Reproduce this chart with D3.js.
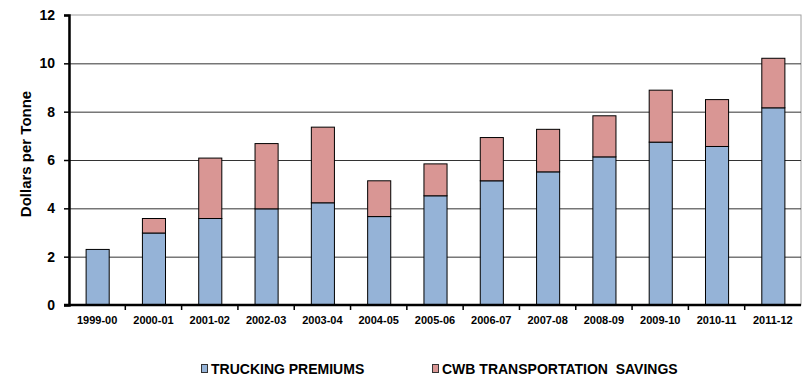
<!DOCTYPE html>
<html>
<head>
<meta charset="utf-8">
<script src="https://cdn.jsdelivr.net/npm/d3@7"></script>
<style>
  body { margin: 0; background: #fff; }
  text { font-family: "Liberation Sans", Arial, sans-serif; font-weight: bold; white-space: pre; }
</style>
</head>
<body>
<div id="chart"></div>
<script>
const width = 806;
const height = 376;

const margin = { top: 15, left: 69, bottom: 71, right: 5 };

// data
const years = ["1999-00", "2000-01", "2001-02", "2002-03", "2003-04", "2004-05", "2005-06",
    "2006-07", "2007-08", "2008-09", "2009-10", "2010-11", "2011-12"];
const trucking = [2.32, 3.0, 3.6, 4.0, 4.25, 3.68, 4.54, 5.16, 5.53, 6.15, 6.76, 6.58, 8.18];
const cwbSavings = [0, 0.6, 2.5, 2.7, 3.13, 1.48, 1.32, 1.79, 1.76, 1.7, 2.15, 1.94, 2.05];
const yTicks = [0, 2, 4, 6, 8, 10, 12];

const seriesNames = ["TRUCKING PREMIUMS", "CWB TRANSPORTATION  SAVINGS"];
const colors = ["#95b3d7", "#d99694"];

const rows = years.map((y, i) => ({ year: y, trucking: trucking[i], cwb: cwbSavings[i] }));
const stack = d3.stack().keys(["trucking", "cwb"])(rows);

const xScale = d3.scaleBand()
    .domain(years)
    .range([margin.left, width - margin.right])
    .paddingInner(0.59)
    .paddingOuter(0.295);

const yScale = d3.scaleLinear()
    .domain([0, 12])
    .range([height - margin.bottom, margin.top]);

const svg = d3.select("#chart").append("svg").attr("width", width).attr("height", height);

// plot border
svg.append("rect")
    .attr("x", margin.left)
    .attr("y", margin.top)
    .attr("width", width - margin.left - margin.right)
    .attr("height", height - margin.top - margin.bottom)
    .attr("fill", "none")
    .attr("stroke", "#a0a0a0");

// gridlines
svg.append("g")
    .selectAll("line")
    .data(yTicks.filter(d => d > 0 && d < 12))
    .join("line")
    .attr("x1", margin.left)
    .attr("x2", width - margin.right)
    .attr("y1", d => yScale(d) + 0.5)
    .attr("y2", d => yScale(d) + 0.5)
    .attr("stroke", "#333");

// bars
svg.append("g")
    .selectAll("g")
    .data(stack)
    .join("g")
    .attr("fill", (d, i) => colors[i])
    .selectAll("rect")
    .data(d => d.filter(s => s[1] - s[0] > 0))
    .join("rect")
    .attr("x", d => xScale(d.data.year) + 0.5)
    .attr("y", d => yScale(d[1]) + 0.5)
    .attr("width", xScale.bandwidth())
    .attr("height", d => yScale(d[0]) - yScale(d[1]))
    .attr("stroke", "#000")
    .attr("stroke-width", 1);

// y axis
const yAxis = d3.axisLeft(yScale).tickValues(yTicks).tickSize(5).tickPadding(9);
const gy = svg.append("g")
    .attr("transform", `translate(${margin.left},0)`)
    .call(yAxis);
gy.select(".domain").attr("stroke", "#000").attr("stroke-width", 2.5);
gy.selectAll(".tick line").attr("stroke", "#000").attr("stroke-width", 1.5);
gy.selectAll(".tick text").style("font-size", "14px").attr("fill", "#000");

// x axis, ticks between categories
const gx = svg.append("g")
    .attr("transform", `translate(0,${height - margin.bottom})`);
gx.append("line")
    .attr("x1", margin.left - 5)
    .attr("x2", width - margin.right)
    .attr("stroke", "#000")
    .attr("stroke-width", 2.5);
const step = xScale.step();
gx.selectAll(".sep")
    .data(years.slice(1))
    .join("line")
    .attr("class", "sep")
    .attr("x1", d => xScale(d) - step * 0.295)
    .attr("x2", d => xScale(d) - step * 0.295)
    .attr("y1", 0)
    .attr("y2", 5)
    .attr("stroke", "#000")
    .attr("stroke-width", 1.5);
gx.selectAll(".lbl")
    .data(years)
    .join("text")
    .attr("class", "lbl")
    .attr("x", d => xScale(d) + xScale.bandwidth() / 2)
    .attr("y", 19)
    .attr("text-anchor", "middle")
    .style("font-size", "11px")
    .text(d => d);

// y axis title
svg.append("text")
    .attr("transform", `translate(31,${(margin.top + height - margin.bottom) / 2 - 6}) rotate(-90)`)
    .attr("text-anchor", "middle")
    .style("font-size", "15px")
    .text("Dollars per Tonne");

// legend
const legendX = [201, 432];
const legend = svg.append("g")
    .selectAll("g")
    .data(seriesNames)
    .join("g")
    .attr("transform", (d, i) => `translate(${legendX[i]},369)`);
legend.append("rect")
    .attr("x", 0.5)
    .attr("y", -4.5)
    .attr("width", 6)
    .attr("height", 8)
    .attr("fill", (d, i) => colors[i])
    .attr("stroke", "#333");
legend.append("text")
    .attr("x", 10)
    .attr("y", 5)
    .style("font-size", "14px")
    .text(d => d);
</script>
</body>
</html>
